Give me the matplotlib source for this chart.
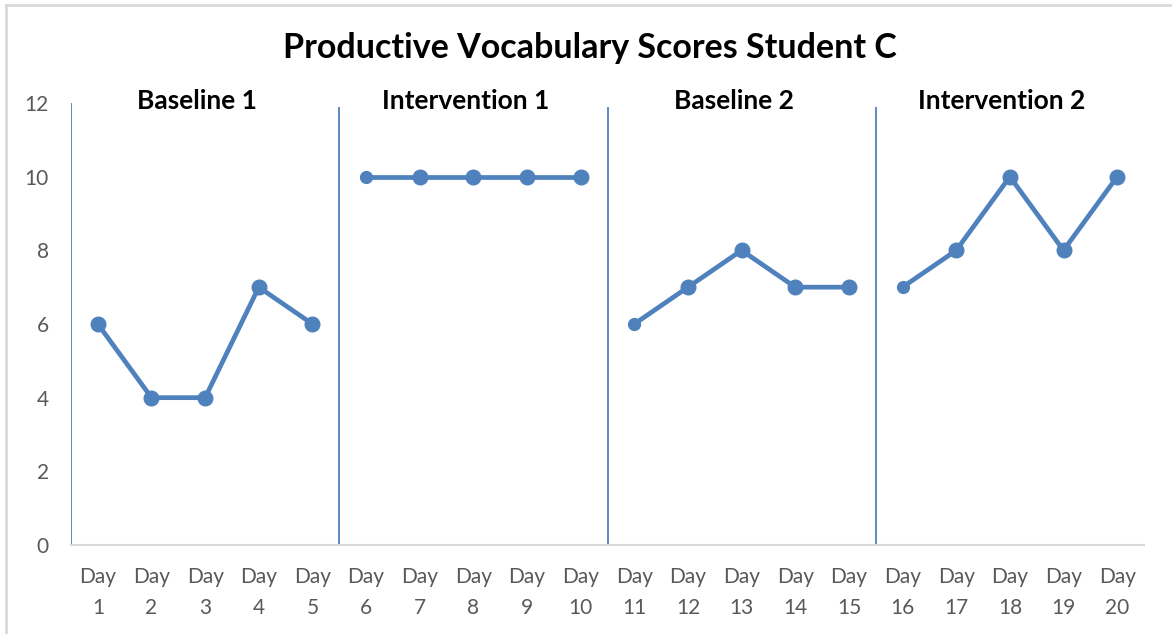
"""Productive vocabulary scores for Student C across baseline/intervention phases."""

import matplotlib
matplotlib.use("Agg")
import matplotlib.pyplot as plt
from matplotlib.lines import Line2D

plt.rcParams["font.family"] = ["Lato", "DejaVu Sans"]

# --- data -------------------------------------------------------------------
days = [f"Day\n{d}" for d in range(1, 21)]
phases = ["Baseline 1", "Intervention 1", "Baseline 2", "Intervention 2"]
scores = [
    [6, 4, 4, 7, 6],
    [10, 10, 10, 10, 10],
    [6, 7, 8, 7, 7],
    [7, 8, 10, 8, 10],
]

BLUE = "#4f81bd"
GREY_TEXT = "#595959"

fig = plt.figure(figsize=(11.72, 6.34), dpi=100)
ax = fig.add_axes([0.0606, 0.1404, 0.9155, 0.6971])

# chart-area border (top and left edges visible)
fig.add_artist(Line2D([6 / 1172, 1.0], [1 - 5 / 634, 1 - 5 / 634],
                      transform=fig.transFigure, color="#d9d9d9", lw=2))
fig.add_artist(Line2D([6 / 1172, 6 / 1172], [0.0, 1 - 5 / 634],
                      transform=fig.transFigure, color="#d9d9d9", lw=2))

start = 0
for i, (name, vals) in enumerate(zip(phases, scores)):
    xs = list(range(start, start + len(vals)))
    # later phases start with a smaller marker
    first = 0 if i == 0 else 1
    ax.plot(xs, vals, color=BLUE, lw=3.4, marker="o", markersize=10.5,
            markevery=slice(first, None), solid_capstyle="round", zorder=3)
    if i > 0:
        ax.plot(xs[0], vals[0], "o", color=BLUE, markersize=8.5, zorder=4)
    # phase boundary line
    ax.vlines(start - 0.5, 0, 11.9 if i else 12, color=BLUE, lw=1.3, zorder=2)
    ax.text((xs[0] + xs[-1]) / 2 - 0.15, 12.05, name, ha="center", va="center",
            fontsize=19, fontweight="bold", color="black")
    start += len(vals)

ax.set_xlim(-0.5, len(days) - 0.5)
ax.set_ylim(0, 12)
ax.set_xticks(range(len(days)))
ax.set_xticklabels(days, linespacing=1.65)
ax.set_yticks(range(0, 13, 2))

ax.tick_params(axis="both", length=0, labelsize=15, labelcolor=GREY_TEXT)
ax.tick_params(axis="x", pad=16)
ax.tick_params(axis="y", pad=16)

for side in ("top", "right", "left"):
    ax.spines[side].set_visible(False)
ax.spines["bottom"].set_color("#d9d9d9")
ax.spines["bottom"].set_linewidth(1.5)

fig.text(0.503, 0.924, "Productive Vocabulary Scores Student C",
         ha="center", va="center", fontsize=24.5, fontweight="bold")

fig.savefig("out.png", dpi=100)
